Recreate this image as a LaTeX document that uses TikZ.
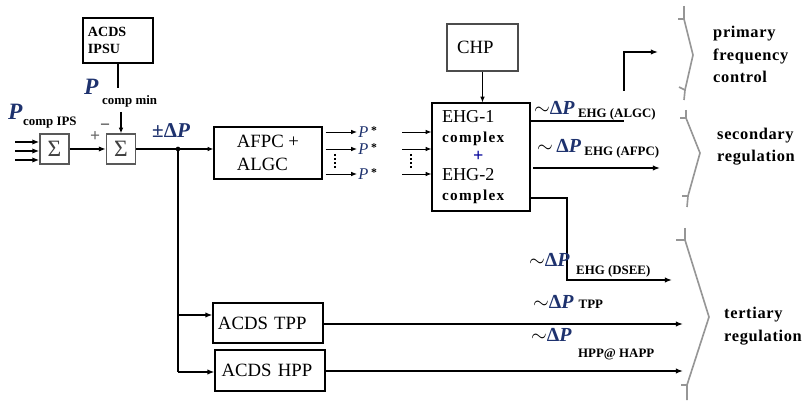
\documentclass[tikz,border=0pt]{standalone}
\usepackage{fontspec}
\setmainfont{Liberation Serif}
\usetikzlibrary{arrows.meta,positioning}

\definecolor{pcol}{RGB}{30,50,110}
\definecolor{bracegray}{RGB}{150,150,150}

% delta P with the blue colour of the figure
\newcommand{\dP}{{\color{pcol}\bfseries Δ\textit{P}}}
\newcommand{\cplx}{\fontsize{13}{16.5}\selectfont\bfseries\addfontfeatures{LetterSpace=9}}
\newcommand{\subtxt}{\fontsize{11}{11}\selectfont\bfseries}

\tikzset{
  blk/.style={draw, line width=0.9pt, inner sep=0pt, align=left,
    font=\fontsize{16}{19.5}\selectfont},
  sumblk/.style={draw=gray!70!black, line width=1pt, inner sep=0pt,
    minimum width=0.87cm, minimum height=0.9cm, text=black!75,
    font=\fontsize{20}{20}\selectfont},
  thinarr/.style={-{Latex[length=5pt,width=4pt]}, line width=0.8pt},
  boldarr/.style={-{Latex[length=6pt,width=4.5pt]}, line width=1.8pt},
  braceln/.style={draw=bracegray, line width=1.4pt},
  lbl/.style={anchor=base west, inner sep=0pt},
  dlbl/.style={anchor=base west, inner sep=0pt, font=\fontsize{17}{17}\selectfont},
  side/.style={anchor=base west, inner sep=0pt, align=left,
    font=\fontsize{14}{19.5}\selectfont\bfseries\addfontfeatures{LetterSpace=4}},
}

\begin{document}
\begin{tikzpicture}[x=0.03cm, y=-0.03cm]
  \useasboundingbox (0,0) rectangle (807,401);

  % blocks
  \node[blk, minimum width=2.1cm, minimum height=1.35cm, text width=1.8cm,
    font=\fontsize{12}{14.5}\selectfont\bfseries] (ipsu) at (118,40.5) {ACDS\\IPSU};
  \node[sumblk] (sum1) at (54.5,149) {Σ};
  \node[sumblk] (sum2) at (121,149) {Σ};
  \node[blk, minimum width=3.24cm, minimum height=1.56cm] (afpc) at (268,153) {AFPC +\\ALGC};
  \node[blk, minimum width=2.94cm, minimum height=3.24cm, text width=2.34cm,
    font=\fontsize{15.5}{16.5}\selectfont] (ehg) at (481,157)
    {EHG-1\\{\cplx complex}\\\hspace*{0.93cm}{\color{blue!60!black}\bfseries +}\\EHG-2\\{\cplx complex}};
  \node[blk, draw=gray!60!black, line width=1.3pt, minimum width=2.13cm,
    minimum height=1.41cm, text width=1.53cm] (chp) at (482.5,47.5) {CHP};
  \node[blk, minimum width=3.3cm, minimum height=1.2cm, text width=3.0cm] (tpp) at (268,323) {ACDS TPP};
  \node[blk, minimum width=3.3cm, minimum height=1.23cm, text width=2.9cm] (hpp) at (270,370.5) {ACDS HPP};

  % inputs and summation
  \foreach \y [count=\i] in {142,151,160}{
    \coordinate (in\i) at (15,\y);
    \draw[boldarr, line width=1.5pt] (in\i) -- (in\i -| sum1.west);
  }
  \draw[boldarr] (sum1) -- (sum2);
  \coordinate (ipsuend) at (118,88);
  \coordinate (minin) at (121,112);
  \draw[line width=1.8pt] (ipsu) -- (ipsuend);
  \draw[thinarr, line width=1pt] (minin) -- (sum2.north);

  \node[lbl, font=\fontsize{20}{20}\selectfont] (pips) at (8,120) {{\color{pcol}\bfseries\itshape P}};
  \node[lbl, font=\subtxt] (pipssub) at (23,126) {comp IPS};
  \node[lbl, font=\fontsize{20}{20}\selectfont] (pmin) at (84,95) {{\color{pcol}\bfseries\itshape P}};
  \node[lbl, font=\subtxt] (pminsub) at (102,105) {comp min};
  \node[lbl, text=black!60, font=\fontsize{15}{15}\selectfont\bfseries] (plus) at (90,142) {+};
  \node[lbl, text=black!70, font=\fontsize{15}{15}\selectfont\bfseries] (minus) at (100,131) {−};

  % error signal and branches
  \coordinate (split) at (178,149);
  \coordinate (tapT) at (178,315);
  \coordinate (tapH) at (178,372);
  \draw[thinarr, line width=1pt] (sum2.east) -- (sum2.east -| afpc.west);
  \fill (split) circle (2pt);
  \draw[line width=1.8pt] (split) -- (tapH);
  \draw[boldarr] (tapT) -- (tapT -| tpp.west);
  \draw[boldarr] (tapH) -- (tapH -| hpp.west);
  \node[dlbl, font=\fontsize{18}{18}\selectfont] (ldp) at (152,138)
    {{\color{pcol}\bfseries ±}\dP};

  % set points to the EHG complexes
  \foreach \y [count=\i] in {132,149,174}{
    \node[anchor=west, inner sep=1pt, font=\fontsize{14}{14}\selectfont] (ps\i) at (357,\y)
      {{\color{pcol}\itshape P}\,\raisebox{3pt}{\fontsize{10}{10}\selectfont\bfseries *}};
    \draw[thinarr] (afpc.east |- ps\i) ++(3,0) -- (ps\i.west);
    \coordinate (ein\i) at (402,\y);
    \draw[thinarr] (ein\i) -- (ein\i -| ehg.west);
  }
  \draw[line width=1.2pt, dash pattern=on 1.5pt off 2pt] (335,154) -- (335,170);
  \draw[line width=1.2pt, dash pattern=on 1.5pt off 2pt] (411,154) -- (411,170);
  \draw[thinarr] (chp.south) -- (chp.south |- ehg.north);

  % outputs
  \coordinate (algc0) at (530,121);
  \coordinate (algc1) at (624,121);
  \coordinate (algcgap) at (624,91);
  \coordinate (algc2) at (624,52);
  \coordinate (algcend) at (658,52);
  \draw[line width=2pt] (algc0) -- (algc1);
  \draw[boldarr, line width=2pt] (algcgap) -- (algc2) -- (algcend);
  \coordinate (afpc0) at (533,168);
  \coordinate (afpcend) at (660,168);
  \draw[boldarr, line width=2.4pt] (afpc0) -- (afpcend);
  \coordinate (dsee0) at (530,198);
  \coordinate (dsee1) at (567,198);
  \coordinate (dsee2) at (567,280);
  \coordinate (dseeend) at (672,280);
  \draw[boldarr] (dsee0) -- (dsee1) -- (dsee2) -- (dseeend);
  \coordinate (tppend) at (683,324);
  \coordinate (hppend) at (683,371);
  \draw[boldarr, line width=2.2pt] (tpp.east |- tppend) -- (tppend);
  \draw[boldarr, line width=2.2pt] (hpp.east |- hppend) -- (hppend);

  \node[dlbl] (lalgc) at (534,115)
    {$\sim$\dP\,\raisebox{-2pt}{\subtxt EHG (ALGC)}};
  \node[dlbl] (lafpc) at (537,153)
    {$\sim$\,\dP\,\raisebox{-2pt}{\subtxt EHG (AFPC)}};
  \node[dlbl] (ldsee) at (529,267)
    {$\sim$\dP\raisebox{-6pt}{\subtxt\ \ EHG (DSEE)}};
  \node[dlbl] (ltpp) at (533,309)
    {$\sim$\dP\ {\subtxt TPP}};
  \node[dlbl] (lhpp) at (531,341)
    {$\sim$\dP\raisebox{-14pt}{\subtxt\ \ HPP@ HAPP}};

  % braces
  \draw[braceln] (684,6) -- (684,19) -- (678,19);
  \draw[braceln] (684,19) -- (693,55) -- (685,90) -- (684,100);
  \draw[braceln] (679,87) -- (685,90);
  \draw[braceln] (686,110) -- (686,118) -- (680,118);
  \draw[braceln] (686,118) -- (700,153) -- (688,196) -- (687,207);
  \draw[braceln] (682,196) -- (688,196);
  \draw[braceln] (685,228) -- (685,240) -- (676,240);
  \draw[braceln] (685,240) -- (709,317) -- (687,385) -- (687,400);
  \draw[braceln] (681,385) -- (687,385);

  \node[side] (prim) at (713,83) {primary\\frequency\\control};
  \node[side] (sec) at (717,162) {secondary\\regulation};
  \node[side] (tert) at (724,341) {tertiary\\regulation};
\end{tikzpicture}
\end{document}
